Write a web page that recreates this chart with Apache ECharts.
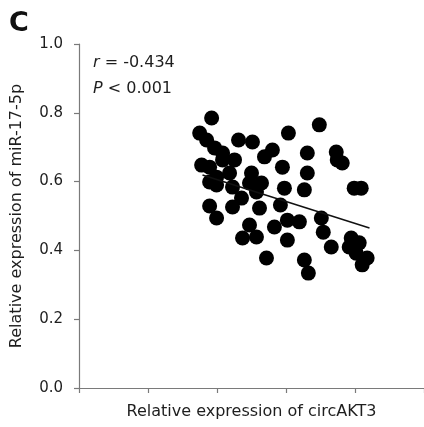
<!DOCTYPE html>
<html>
<head>
<meta charset="utf-8">
<script src="https://cdn.jsdelivr.net/npm/echarts@6/dist/echarts.min.js"></script>
<style>
  html, body { margin: 0; padding: 0; background: #fff; }
  #chart { width: 424px; height: 427px; }
</style>
</head>
<body>
<div id="chart"></div>
<script>
// circAKT3 relative expression (x) per sample
const circAKT3 = [
  1.922, 1.749, 1.850, 1.965, 2.312, 2.514, 3.035, 3.483, 2.803, 2.688,
  3.309, 2.948, 3.309, 3.728, 3.815, 3.743, 3.988, 4.090, 1.777, 2.081,
  2.254, 1.994, 2.182, 2.500, 2.645, 2.977, 3.266, 1.994, 2.225, 2.471,
  1.893, 1.994, 2.225, 2.355, 2.572, 2.616, 2.471, 2.370, 2.572, 2.717,
  2.919, 3.020, 2.832, 3.194, 3.020, 3.512, 3.540, 3.656, 3.266, 3.324,
  3.945, 4.061, 4.017, 4.176, 4.104, 3.916, 1.893, 2.081, 1.893
];
// miR-17-5p relative expression (y) per sample
const miR175p = [
  0.785, 0.741, 0.721, 0.698, 0.721, 0.715, 0.741, 0.765, 0.692, 0.672,
  0.683, 0.642, 0.625, 0.686, 0.654, 0.663, 0.581, 0.581, 0.648, 0.663,
  0.663, 0.613, 0.625, 0.625, 0.596, 0.581, 0.576, 0.590, 0.584, 0.596,
  0.529, 0.494, 0.526, 0.552, 0.570, 0.523, 0.474, 0.436, 0.439, 0.378,
  0.532, 0.488, 0.468, 0.483, 0.430, 0.494, 0.453, 0.410, 0.372, 0.334,
  0.436, 0.422, 0.392, 0.378, 0.358, 0.410, 0.642, 0.683, 0.599
];
// fitted trend line end points
const fitX = [1.79, 4.21];
const fitY = [0.619, 0.465];
const yTicks = [0, 0.2, 0.4, 0.6, 0.8, 1.0];

const points = circAKT3.map((x, i) => [x, miR175p[i]]);
const fitLine = fitX.map((x, i) => [x, fitY[i]]);

const FONT = 'DejaVu Sans';
const AXIS_COLOR = '#7a7a7a';
const TEXT_COLOR = '#1e1e1e';

const chart = echarts.init(document.getElementById('chart'), null, { renderer: 'canvas' });
chart.setOption({
  animation: false,
  backgroundColor: '#fff',
  grid: { left: 79, top: 44, right: 0, bottom: 39, containLabel: false },
  xAxis: {
    type: 'value', min: 0, max: 5, interval: 1,
    name: 'Relative expression of circAKT3',
    nameLocation: 'middle', nameGap: 16,
    nameTextStyle: { fontFamily: FONT, fontSize: 16, color: TEXT_COLOR, verticalAlign: 'top' },
    axisLine: { show: true, onZero: false, lineStyle: { color: AXIS_COLOR, width: 1.2 } },
    axisTick: { show: true, inside: false, length: 5, lineStyle: { color: AXIS_COLOR, width: 1.2 } },
    axisLabel: { show: false },
    splitLine: { show: false }
  },
  yAxis: {
    type: 'value', min: yTicks[0], max: yTicks[yTicks.length - 1], interval: 0.2,
    name: 'Relative expression of miR-17-5p',
    nameLocation: 'middle', nameGap: 54, nameRotate: 90,
    nameTextStyle: { fontFamily: FONT, fontSize: 16, color: TEXT_COLOR },
    axisLine: { show: true, onZero: false, lineStyle: { color: AXIS_COLOR, width: 1.2 } },
    axisTick: { show: true, inside: false, length: 5, lineStyle: { color: AXIS_COLOR, width: 1.2 } },
    axisLabel: {
      fontFamily: FONT, fontSize: 15, color: TEXT_COLOR, margin: 16,
      formatter: v => v.toFixed(1)
    },
    splitLine: { show: false }
  },
  graphic: [
    {
      type: 'text', left: 9, top: 10,
      style: { text: 'C', font: 'bold 27px ' + FONT, fill: '#111' }
    },
    {
      type: 'text', left: 93, top: 55,
      style: {
        text: '{i|r} = -0.434',
        font: '16px ' + FONT, fill: TEXT_COLOR,
        rich: { i: { fontStyle: 'italic', fontFamily: FONT, fontSize: 16, fill: TEXT_COLOR } }
      }
    },
    {
      type: 'text', left: 93, top: 81,
      style: {
        text: '{i|P} < 0.001',
        font: '16px ' + FONT, fill: TEXT_COLOR,
        rich: { i: { fontStyle: 'italic', fontFamily: FONT, fontSize: 16, fill: TEXT_COLOR } }
      }
    }
  ],
  series: [
    {
      type: 'scatter',
      data: points,
      symbol: 'circle',
      symbolSize: 15,
      itemStyle: { color: '#000', opacity: 1 },
      z: 2
    },
    {
      type: 'line',
      data: fitLine,
      showSymbol: false,
      symbol: 'none',
      lineStyle: { color: '#111', width: 1.5 },
      z: 3
    }
  ]
});
</script>
</body>
</html>
